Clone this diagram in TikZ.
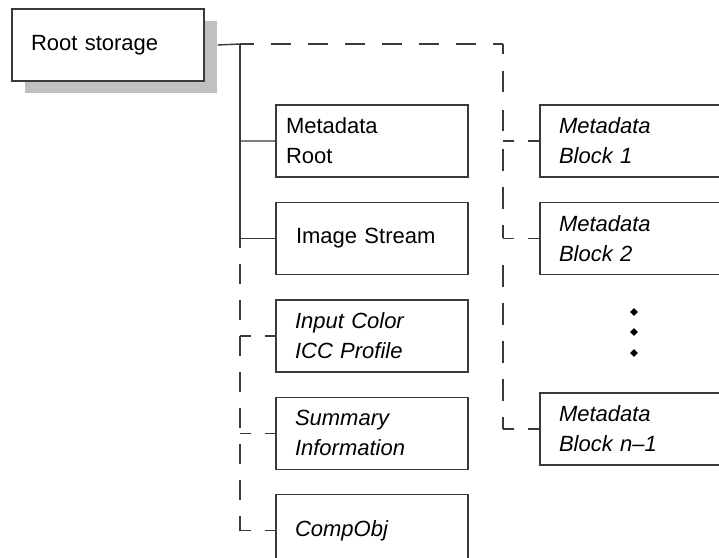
\documentclass[tikz,border=0pt]{standalone}
\usepackage{fontspec}
\setmainfont{Liberation Sans}
\usetikzlibrary{positioning,shadows,shapes.geometric}
\definecolor{dgInk}{HTML}{3A3A3A}
\definecolor{dgShade}{HTML}{C0C0C0}
\newcommand{\boxfont}{\fontsize{22}{30}\selectfont}

\tikzset{
  box/.style={draw=dgInk,line width=1.4pt,fill=white,minimum width=192pt,minimum height=72pt,
    inner xsep=19pt,text width=154pt,align=left,font=\boxfont},
  optbox/.style={box,font=\boxfont\itshape},
  link/.style={draw=dgInk,line width=1.4pt},
  dashlink/.style={link,dash pattern=on 20pt off 16pt},
  branch/.style={link,dash pattern=on 11pt off 14pt on 20pt},
  dot/.style={diamond,fill=black,inner sep=0pt,minimum size=8pt},
}

\begin{document}
\begin{tikzpicture}[x=1pt,y=-1pt]
  \useasboundingbox (0,0) rectangle (719,557);
  \clip (0,0) rectangle (719,557);

  % root with its grey shade
  \node[box,drop shadow={shadow xshift=13pt,shadow yshift=-12pt,fill=dgShade,opacity=1,draw=none}]
    (root) at (108,45) {Root storage};

  % left column
  \node[box,inner xsep=10pt,text width=172pt] (mdroot) at (372,141) {Metadata\\Root};
  \node[box,inner xsep=20pt,text width=152pt,below=24pt of mdroot] (imgstream) {Image Stream};
  \node[optbox,below=24pt of imgstream] (icc) {Input Color\\ICC Profile};
  \node[optbox,below=24pt of icc] (summary) {Summary\\Information};
  \node[optbox,below=24pt of summary] (compobj) {CompObj};

  % right column
  \node[optbox] (block1) at (636,141) {Metadata\\Block 1};
  \node[optbox,below=24pt of block1] (block2) {Metadata\\Block 2};
  \node[optbox] (blockn) at (636,429) {Metadata\\Block n--1};

  \node[dot] (dot1) at (634,312) {};
  \node[dot] (dot2) at (634,332) {};
  \node[dot] (dot3) at (634,353) {};

  % trunks
  \coordinate (rshade) at ([xshift=13pt]root.east);
  \coordinate (ltop) at (240,44);
  \coordinate (rtop) at (503,44);

  \draw[link] (rshade) -- (ltop) |- (mdroot.west);
  \draw[link] (ltop) |- (imgstream.west);
  \draw[dashlink,dash phase=10pt] (ltop |- imgstream.west) -- (ltop |- compobj.west);
  \draw[branch] (ltop |- icc.west) -- (icc.west);
  \draw[branch] (ltop |- summary.west) -- (summary.west);
  \draw[branch] (ltop |- compobj.west) -- (compobj.west);

  \draw[link,dash pattern=on 20pt off 17pt,dash phase=6pt] (ltop) -- (rtop);
  \draw[link,dash pattern=on 10pt off 17pt on 21pt off 18pt on 21pt off 20pt] (rtop) -- (rtop |- block1.west);
  \draw[link,dash pattern=on 22pt off 16pt,dash phase=30pt] (rtop |- block1.west) -- (rtop |- block2.west);
  \draw[link,dash pattern=on 22pt off 16pt] ([yshift=-27pt]rtop |- block2.west) -- (rtop |- blockn.west);
  \draw[branch] (rtop |- block1.west) -- (block1.west);
  \draw[branch] (rtop |- block2.west) -- (block2.west);
  \draw[branch] (rtop |- blockn.west) -- (blockn.west);
\end{tikzpicture}
\end{document}
